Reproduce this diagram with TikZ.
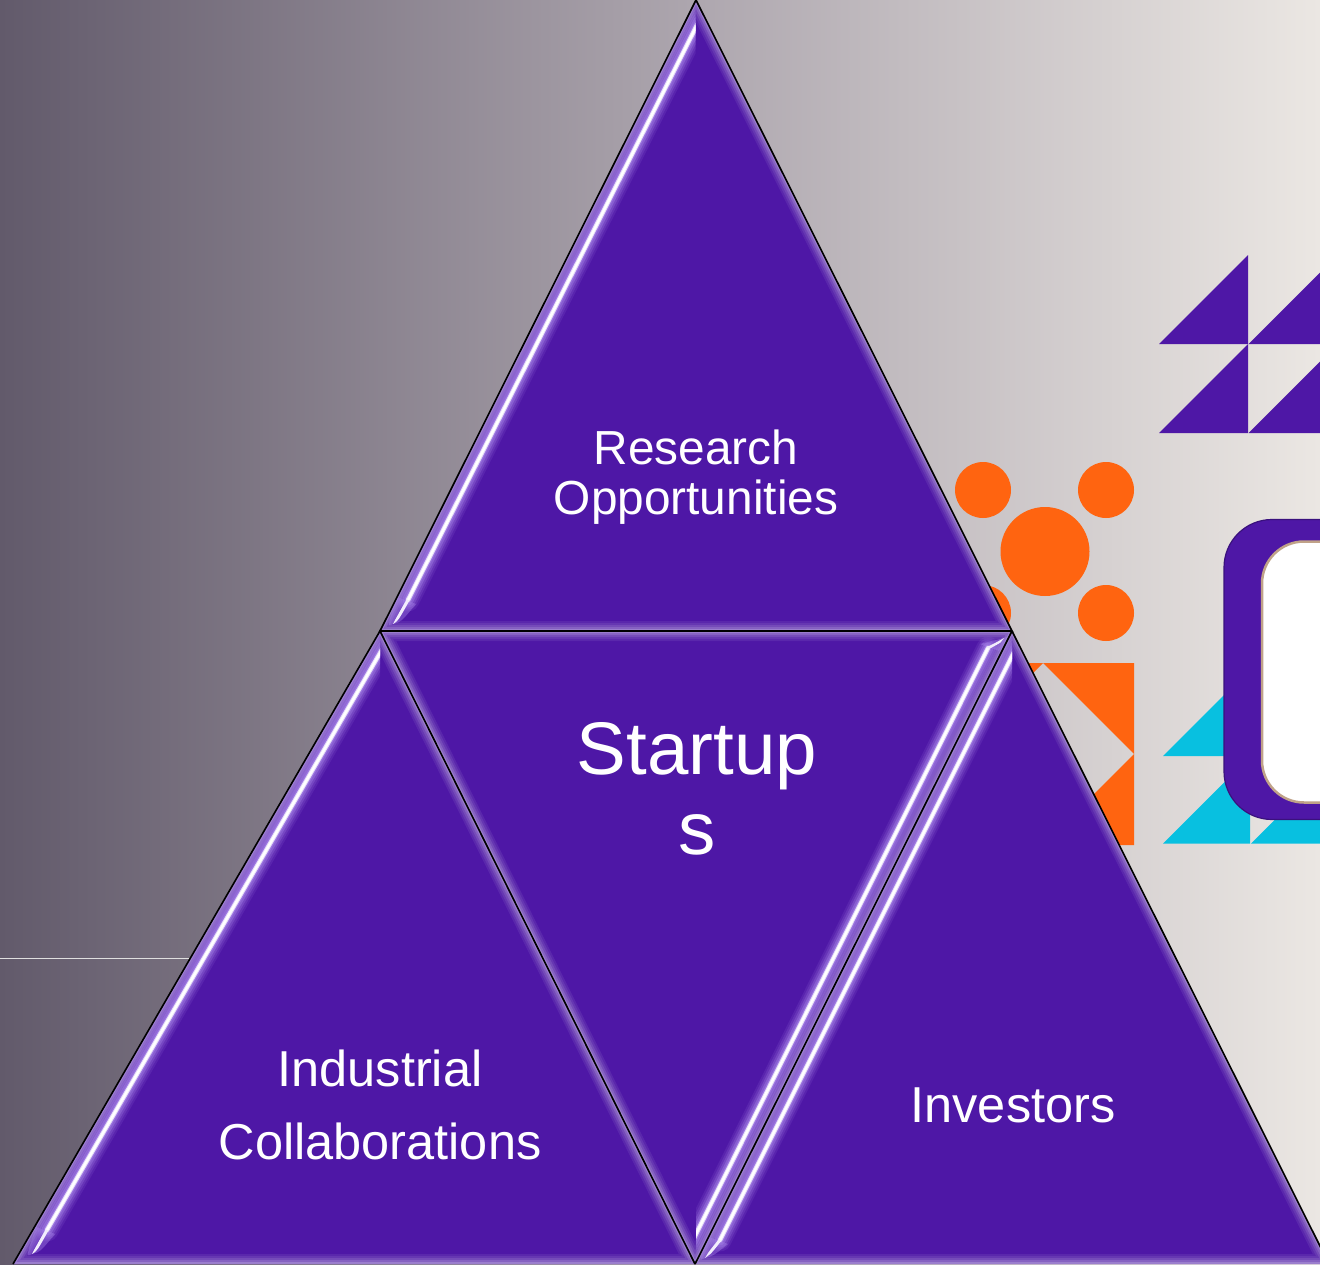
\documentclass[tikz,border=0pt]{standalone}
\usepackage{fontspec}
\setmainfont{Liberation Sans}
\usetikzlibrary{calc}
\definecolor{tripurple}{RGB}{78,23,166}
\definecolor{glowpurple}{RGB}{170,135,235}
\definecolor{dotorange}{RGB}{255,100,16}
\definecolor{tealblue}{RGB}{8,192,224}
\definecolor{bgA}{RGB}{98,90,107}
\definecolor{bgB}{RGB}{174,167,175}
\definecolor{bgC}{RGB}{235,231,227}
\definecolor{tanline}{RGB}{192,162,136}
\tikzset{
 orangefill/.style={fill=dotorange,draw=none},
 tealfill/.style={fill=tealblue,draw=none},
 purplefill/.style={fill=tripurple,draw=none},
 tritext/.style={text=white,align=center,inner sep=0pt},
 triedge/.style={draw=black,line width=1.6pt,line join=miter},
}
% #1,#2,#3 corners; #4 cut end of the highlight; #5 its inner end; #6 tail tip; #7 side of the cut (+1 keeps x left of it)
\newcommand{\bevtri}[7]{%
 \fill[tripurple] #1 -- #2 -- #3 -- cycle;
 \begin{scope}
  \clip #1 -- #2 -- #3 -- cycle;
  \foreach \w/\o in {20/.07,16/.08,12/.10,8/.13,4/.18}{
   \draw[white,opacity=\o,line width=\w pt,line join=miter] #1 -- #2 -- #3 -- cycle;}
  \path #4 coordinate (cutpt);
  \clip ($(cutpt)+(0,-1500)$) rectangle ($(cutpt)+(-#7*1500,1500)$);
  \foreach \w/\o in {23/.12,19/.16,15/.24,11/.36,7/.55}{
   \draw[glowpurple,opacity=\o,line width=\w pt,line cap=round] ($#4!-8pt!#5$) -- #5;}
  \fill[glowpurple,opacity=.4] ($#5+#7*(8,4)$) .. controls ($#6+#7*(8,-2)$) .. #6
     .. controls ($#6+#7*(-6,3)$) .. ($#5+#7*(-11,-3)$) -- cycle;
  \draw[white!70!glowpurple,line width=4.5pt,line cap=round] ($#4!-8pt!#5$) -- #5;
  \draw[white,line width=2.6pt,line cap=round] ($#4!-8pt!#5$) -- #5;
  \fill[white!85!glowpurple] ($#5+#7*(1.3,.8)$) .. controls ($#6+#7*(5,-3)$) .. #6
     .. controls ($#6+#7*(2,-4)$) .. ($#5+#7*(-1.3,-.8)$) -- cycle;
 \end{scope}
}
\begin{document}
\begin{tikzpicture}[x=1pt,y=-1pt]
\useasboundingbox (0,0) rectangle (1320,1264);
\shade[left color=bgA,right color=bgB] (0,0) rectangle (700,1264);
\shade[left color=bgB,right color=bgC] (699.5,0) rectangle (1320,1264);
\draw[white!75!gray,line width=1pt] (0,958.5) -- (195,958.5);
% purple triangles upper right
\fill[purplefill] (1159,344) -- (1248,255) -- (1248,344) -- cycle;
\fill[purplefill] (1248.5,344) -- (1320,272.5) -- (1320,344) -- cycle;
\fill[purplefill] (1159,433) -- (1248,344) -- (1248,433) -- cycle;
\fill[purplefill] (1248.5,433) -- (1320,361.5) -- (1320,433) -- cycle;
% orange
\fill[orangefill] (983,490) circle (28);
\fill[orangefill] (1106,490) circle (28);
\fill[orangefill] (1045,551.5) circle (44.5);
\fill[orangefill] (983,613) circle (28);
\fill[orangefill] (1106,613) circle (28);
\fill[orangefill] (1043,663) -- (1134,663) -- (1134,754) -- cycle;
\fill[orangefill] (1134,754) -- (1134,845) -- (1043,845) -- cycle;
\fill[orangefill] (1012,663) -- (1043,663) -- (1012,694) -- cycle;
% teal
\fill[tealfill] (1163,756) -- (1253,666) -- (1253,756) -- cycle;
\fill[tealfill] (1163,843.5) -- (1250,756.5) -- (1250,843.5) -- cycle;
\fill[tealfill] (1251,843.5) -- (1320,774.5) -- (1320,843.5) -- cycle;
% rounded panel
\fill[tripurple,draw=tripurple!75!black,line width=1.2pt,rounded corners=48] (1224,519.5) rectangle (1400,819.5);
\fill[white,draw=tanline,line width=2.5pt,rounded corners=42] (1262,541.5) rectangle (1400,802.5);
% big triangles
\coordinate (T) at (696,0);
\coordinate (TL) at (380,631);
\coordinate (TR) at (1012,631);
\coordinate (BL) at (13,1264);
\coordinate (BM) at (695,1264);
\coordinate (BR) at (1329,1264);
\bevtri{(T)}{(TL)}{(TR)}{(695.5,28)}{(408,600)}{(393,624)}{1}
\bevtri{(TL)}{(BL)}{(BM)}{(380,653)}{(47,1230)}{(32,1254)}{1}
\bevtri{(TR)}{(TL)}{(BM)}{(696,1234)}{(988,648)}{(1004,638)}{-1}
\bevtri{(TR)}{(BM)}{(BR)}{(1012,656)}{(720,1240)}{(705,1258)}{1}
\draw[triedge] (TL) -- (T) -- (TR) -- cycle;
\draw[triedge] (BL) -- (TL) -- (BM);
\draw[triedge] (TR) -- (BM);
\draw[triedge] (TR) -- (BR);
\node[tritext,font=\fontsize{47.8}{50}\selectfont] (research) at (696,477) {Research\\Opportunities};
\node[tritext,font=\fontsize{74.5}{80}\selectfont] (startups) at (697,789) {Startup\\s};
\node[tritext,font=\fontsize{50.5}{73}\selectfont] (industrial) at (380,1105) {Industrial\\Collaborations};
\node[tritext,font=\fontsize{50.5}{60}\selectfont] (investors) at (1013,1105.5) {Investors};
\end{tikzpicture}
\end{document}
